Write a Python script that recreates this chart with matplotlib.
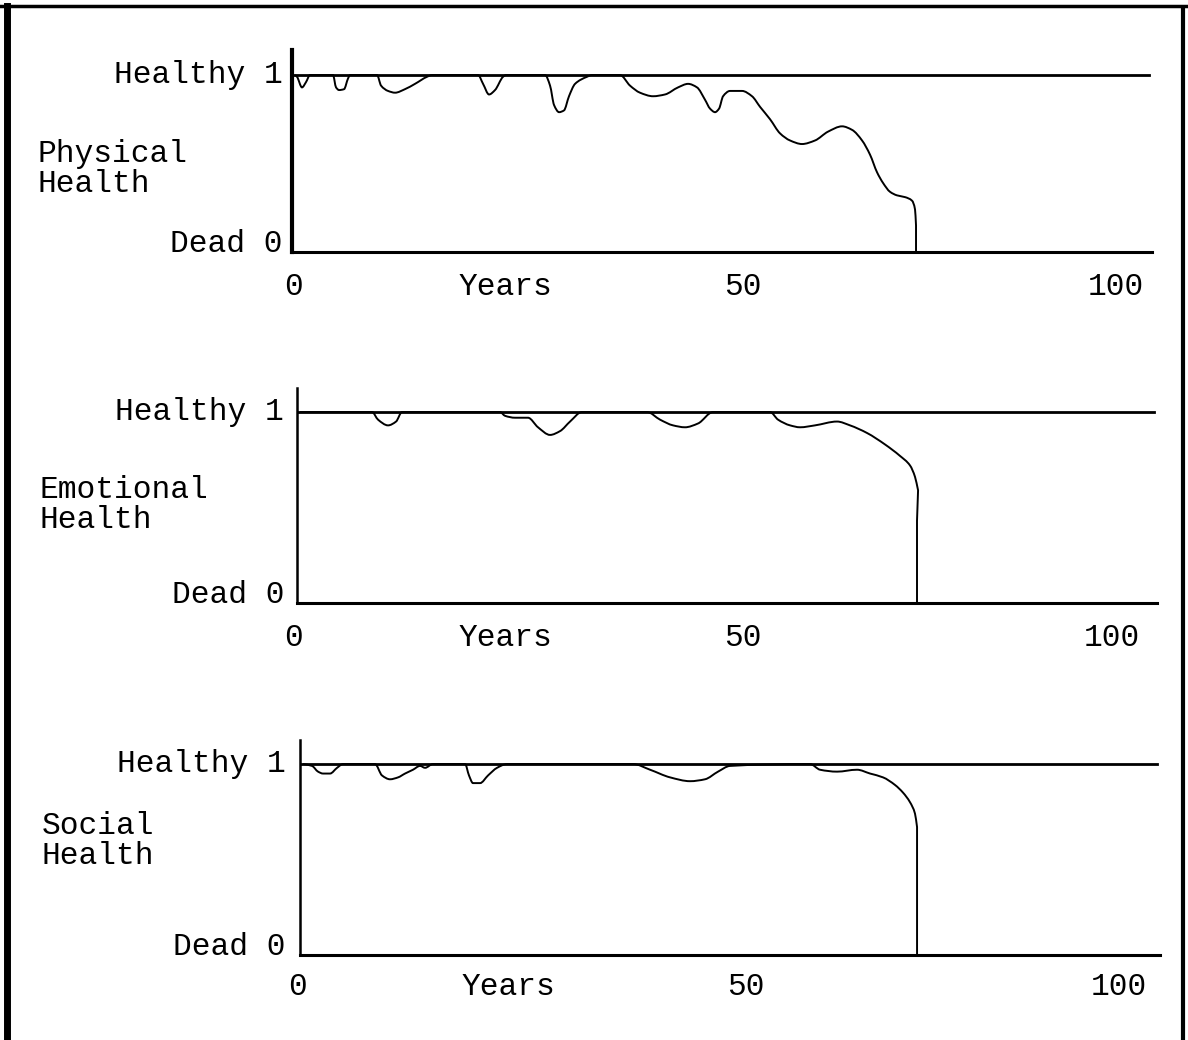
import matplotlib
matplotlib.use("Agg")
import matplotlib.pyplot as plt
from matplotlib.lines import Line2D
from matplotlib.path import Path
from matplotlib.patches import PathPatch

plt.rcParams['font.family'] = ['Liberation Mono', 'DejaVu Sans Mono']

# age in years, health from 0 (dead) to 1 (healthy)
phys_age = [0, 0.24, 0.85, 1.34, 1.83,
            4.63, 5.0, 5.37, 5.98, 6.46, 6.71,
            10.0, 10.49, 11.34, 12.2, 13.41, 14.63, 16.1, 16.71,
            22.32, 22.93, 23.66, 24.39, 25.37, 25.73,
            30.49, 31.1, 31.59, 32.2, 32.8, 33.41, 34.15, 35.61, 36.22,
            39.63, 40.85, 42.07, 43.66, 45.12, 46.71, 47.93, 49.02, 50.0, 50.61, 51.22, 51.71, 52.2, 53.05, 54.51,
            55.73, 56.71, 57.93, 59.15, 60.37, 61.83, 63.41, 65.0, 66.71, 67.93, 69.15, 70.12, 70.98, 71.71,
            72.56, 73.41, 74.39, 75.24, 75.61, 75.73, 75.73]
phys_health = [1.0, 0.99, 0.93, 0.96, 1.0,
               1.0, 0.93, 0.915, 0.92, 0.98, 1.0,
               1.0, 0.94, 0.91, 0.90, 0.92, 0.95, 0.99, 1.0,
               1.0, 0.95, 0.89, 0.915, 0.99, 1.0,
               1.0, 0.94, 0.83, 0.79, 0.80, 0.88, 0.95, 0.99, 1.0,
               1.0, 0.94, 0.90, 0.88, 0.89, 0.93, 0.95, 0.93, 0.86, 0.81, 0.79, 0.81, 0.88, 0.91, 0.91,
               0.88, 0.82, 0.75, 0.67, 0.63, 0.61, 0.63, 0.68, 0.71, 0.69, 0.63, 0.55, 0.45, 0.39,
               0.34, 0.32, 0.31, 0.29, 0.24, 0.15, 0.0]

emo_age = [0, 8.78, 9.51, 10.73, 11.71, 12.44,
           24.39, 25.0, 26.22, 27.8, 29.02, 30.49, 31.71, 32.93, 34.39,
           42.32, 43.9, 45.49, 46.95, 48.54, 50.37,
           57.32, 58.29, 59.76, 60.98, 62.8, 65.49, 67.07, 69.15, 71.34, 73.17, 74.39, 75.0, 75.37, 75.24, 75.24]
emo_health = [1.0, 1.0, 0.96, 0.93, 0.95, 1.0,
              1.0, 0.98, 0.97, 0.97, 0.92, 0.88, 0.90, 0.95, 1.0,
              1.0, 0.96, 0.93, 0.92, 0.94, 1.0,
              1.0, 0.96, 0.93, 0.92, 0.93, 0.95, 0.93, 0.89, 0.83, 0.77, 0.72, 0.66, 0.59, 0.43, 0.0]

soc_age = [0, 1.1, 1.83, 2.44, 3.29, 4.15, 4.88,
           8.78, 9.63, 10.61, 11.59, 12.44, 13.41, 14.27, 14.88, 15.85,
           19.76, 20.24, 20.73, 21.59, 22.56, 23.66, 24.88,
           40.24, 42.32, 44.76, 47.2, 49.02, 50.61, 52.07,
           61.83, 63.05, 65.12, 67.56, 69.15, 70.73, 72.2, 73.17, 74.02, 74.63, 74.88, 74.88]
soc_health = [1.0, 0.99, 0.96, 0.95, 0.95, 0.98, 1.0,
              1.0, 0.94, 0.92, 0.93, 0.95, 0.97, 0.99, 0.98, 1.0,
              1.0, 0.94, 0.90, 0.90, 0.94, 0.98, 1.0,
              1.0, 0.97, 0.93, 0.91, 0.92, 0.96, 0.99,
              1.0, 0.97, 0.96, 0.97, 0.95, 0.93, 0.89, 0.85, 0.80, 0.74, 0.67, 0.0]

names = ["Physical\nHealth", "Emotional\nHealth", "Social\nHealth"]
x_tick_lab = ["0", "Years", "50", "100"]
x_tick_pos = [[-0.2, 25.6, 54.6, 100.1],
              [-0.8, 25.0, 54.0, 99.0],
              [-0.7, 25.0, 54.0, 99.5]]


def smooth_path(xs, ys):
    # monotone cubic (pchip style) through the read points, drawn as bezier pieces;
    # steps where age does not move forward are drawn straight
    n = len(xs)
    slope = []
    for k in range(n - 1):
        dx = xs[k + 1] - xs[k]
        slope.append((ys[k + 1] - ys[k]) / dx if dx > 0 else None)
    m = []
    for k in range(n):
        a = slope[k - 1] if k > 0 else None
        b = slope[k] if k < n - 1 else None
        if a is not None and b is not None:
            if a * b <= 0:
                m.append(0.0)
            else:
                h0 = xs[k] - xs[k - 1]
                h1 = xs[k + 1] - xs[k]
                w1 = 2 * h1 + h0
                w2 = h1 + 2 * h0
                m.append((w1 + w2) / (w1 / a + w2 / b))
        elif a is not None:
            m.append(a)
        elif b is not None:
            m.append(b)
        else:
            m.append(0.0)
    verts = [(xs[0], ys[0])]
    codes = [Path.MOVETO]
    for k in range(n - 1):
        if slope[k] is None:
            verts.append((xs[k + 1], ys[k + 1]))
            codes.append(Path.LINETO)
            continue
        dx = xs[k + 1] - xs[k]
        verts += [(xs[k] + dx / 3, ys[k] + m[k] * dx / 3),
                  (xs[k + 1] - dx / 3, ys[k + 1] - m[k + 1] * dx / 3),
                  (xs[k + 1], ys[k + 1])]
        codes += [Path.CURVE4] * 3
    return Path(verts, codes)


W, H = 1188, 1040
fig = plt.figure(figsize=(W / 100, H / 100), dpi=100)

# panel boxes in pixels: left, top, bottom, y of "healthy"
boxes = [(292, 50, 252, 75), (297, 388, 603, 412), (300, 740, 955, 764)]
name_pos = [(37, 169), (39, 505), (42, 841)]
ages = [phys_age, emo_age, soc_age]
healths = [phys_health, emo_health, soc_health]
spine_w = [3.0, 1.8, 1.8]
xlab_off = [25.5, 25.5, 23]
ylab_gap = [-0.011, -0.015, -0.017]

x0, x1 = -0.37, 104.5
for i in range(3):
    left, top, bot, h1 = boxes[i]
    width = (x1 - x0) * 8.2
    ax = fig.add_axes([left / W, 1 - bot / H, width / W, (bot - top) / H])
    ax.set_xlim(x0, x1)
    ax.set_ylim(0, 1 + (h1 - top) / (bot - h1))
    for s in ["top", "right"]:
        ax.spines[s].set_visible(False)
    ax.spines["left"].set_linewidth(spine_w[i])
    ax.spines["bottom"].set_linewidth(2.2)
    ax.set_xticks([])
    ax.set_yticks([])
    ax.axhline(1, xmax=0.997, color="black", lw=2.0)
    ax.add_patch(PathPatch(smooth_path(ages[i], healths[i]), fill=False,
                           ec="black", lw=1.4))

    ax.text(ylab_gap[i], 1, "Healthy 1", ha="right", va="center", fontsize=22.5,
            transform=ax.get_yaxis_transform())
    ax.text(ylab_gap[i], 0, "Dead 0", ha="right", va="baseline", fontsize=22.5,
            transform=ax.get_yaxis_transform())
    for xp, lab in zip(x_tick_pos[i], x_tick_lab):
        ax.annotate(lab, (xp, 0), xycoords=("data", "axes fraction"),
                    xytext=(0, -xlab_off[i]), textcoords="offset points",
                    ha="center", va="center", fontsize=22.5)
    fig.text(name_pos[i][0] / W, 1 - name_pos[i][1] / H, names[i], ha="left",
             va="center", fontsize=22.5, linespacing=1.0)

# frame around the figure (left, top, right)
fig.add_artist(Line2D([7 / W, 7 / W], [0, 1 - 6 / H], color="black", lw=5))
fig.add_artist(Line2D([0, 1], [1 - 6 / H, 1 - 6 / H], color="black", lw=2.5))
fig.add_artist(Line2D([1183 / W, 1183 / W], [0, 1 - 10 / H], color="black", lw=3))

fig.savefig("out.png", dpi=100)
